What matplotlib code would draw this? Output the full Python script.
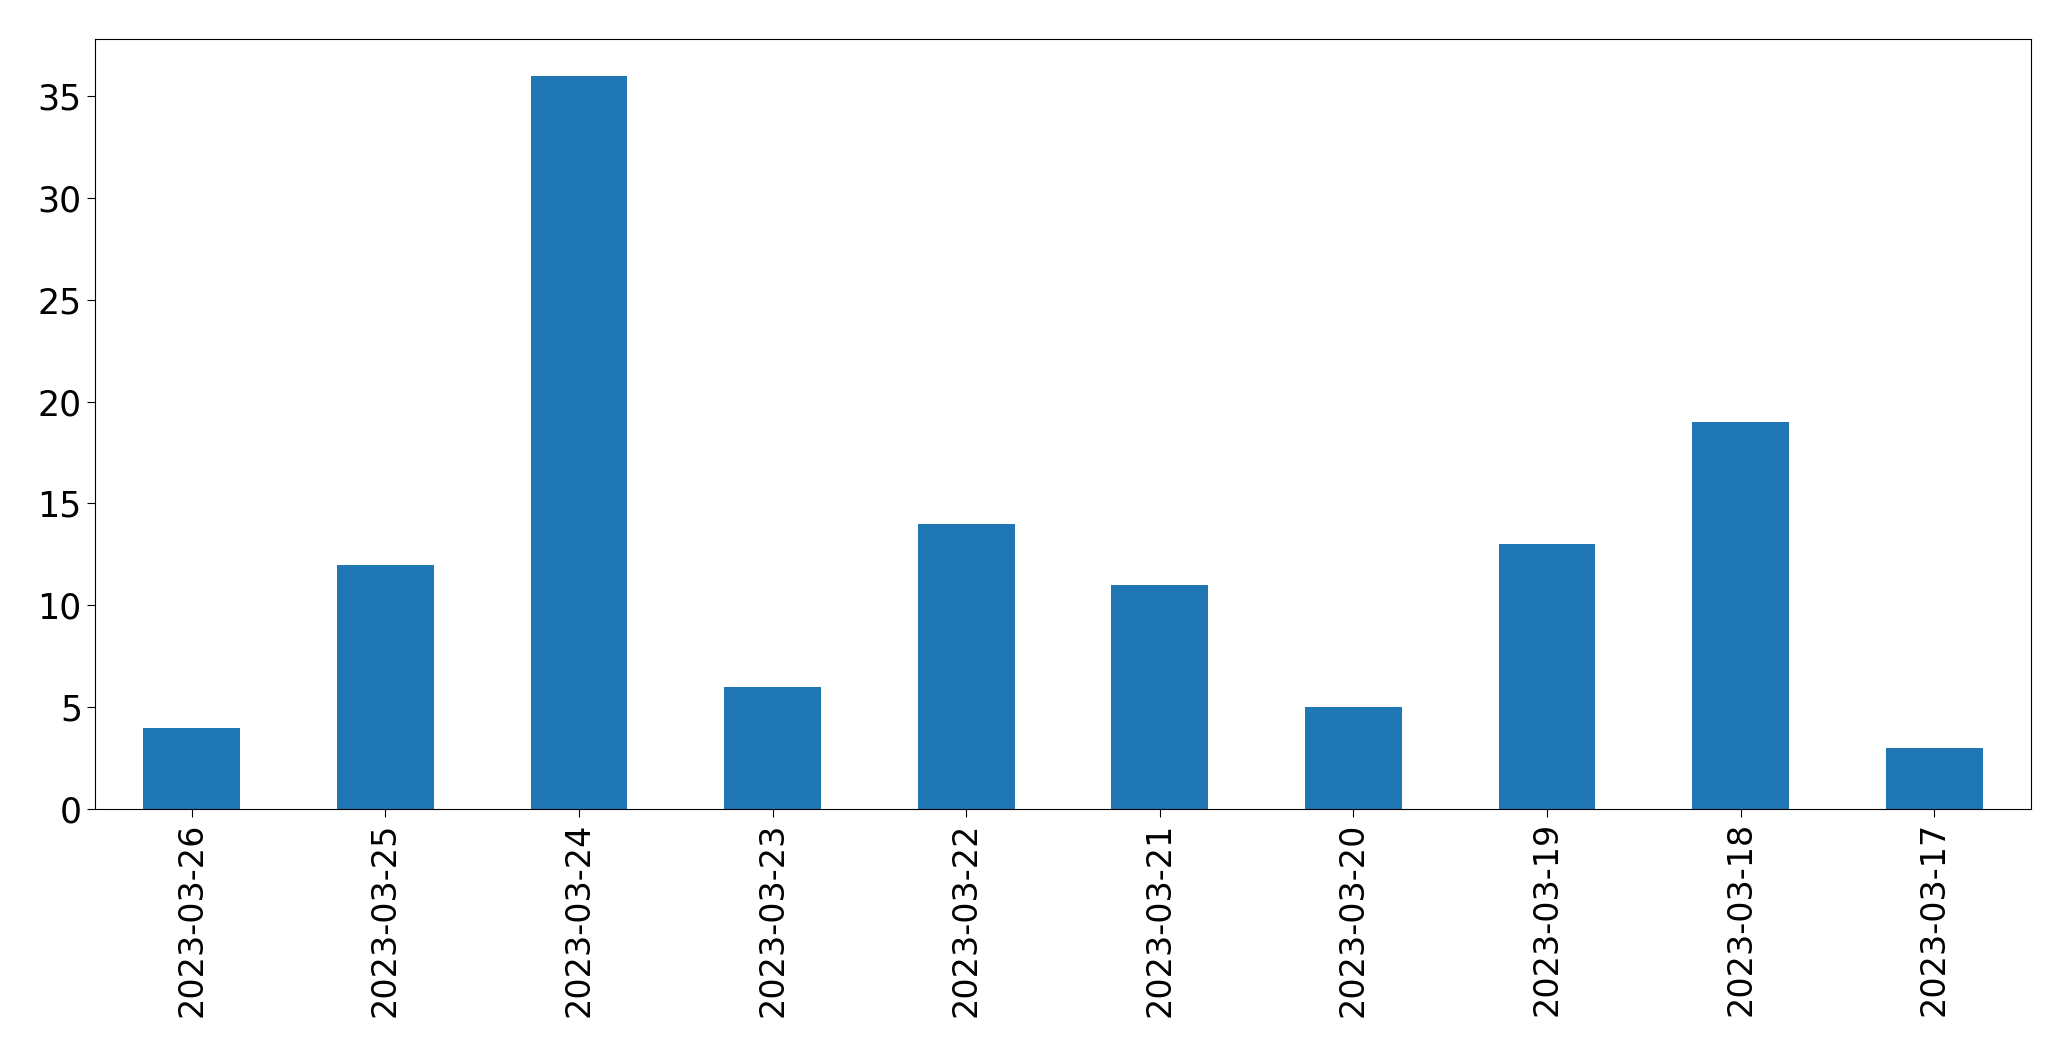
import matplotlib
matplotlib.use("Agg")
import matplotlib.pyplot as plt
import pandas as pd

dates = ["2023-03-26", "2023-03-25", "2023-03-24", "2023-03-23", "2023-03-22",
         "2023-03-21", "2023-03-20", "2023-03-19", "2023-03-18", "2023-03-17"]
counts = [4, 12, 36, 6, 14, 11, 5, 13, 19, 3]

s = pd.Series(counts, index=dates)

fig = plt.figure(figsize=(20.71, 10.61), dpi=100)
ax = fig.add_axes([0.0459, 0.2375, 0.9348, 0.7257])
s.plot(kind="bar", ax=ax, color="#1f77b4", width=0.5)

ax.tick_params(axis="y", labelsize=25, length=6)
ax.tick_params(axis="x", labelsize=24, length=6, rotation=90)
ax.set_ylim(0, 37.8)

fig.savefig("out.png", dpi=100)
